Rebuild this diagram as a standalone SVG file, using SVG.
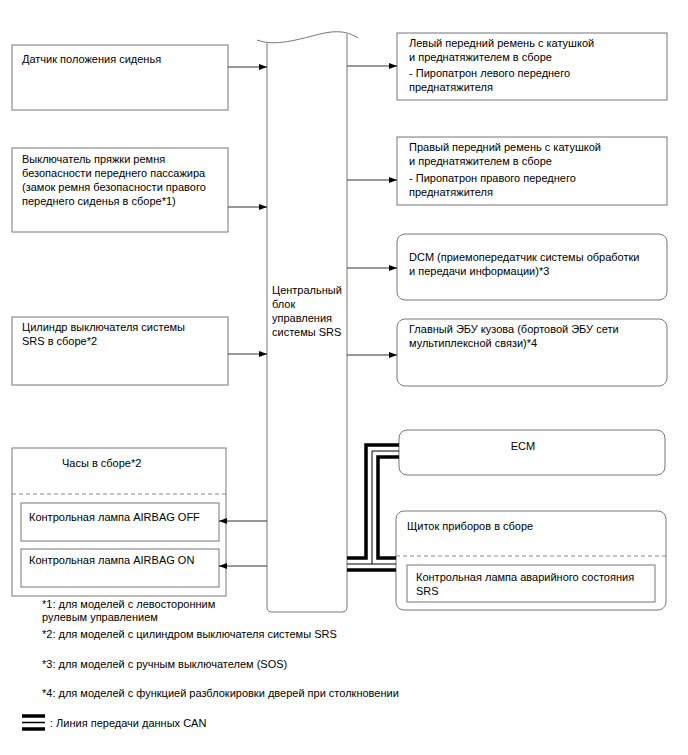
<svg xmlns="http://www.w3.org/2000/svg" width="688" height="755" viewBox="0 0 688 755">
<style>
.box{fill:#fff;stroke:#777;stroke-width:1}
.dash{stroke:#888;stroke-width:1;stroke-dasharray:4,3;fill:none}
.t{font-family:"Liberation Sans",Arial,sans-serif;font-size:11px;fill:#000}
.c{stroke:#333;stroke-width:1;fill:none}
.thick{stroke:#000;stroke-width:3.5;fill:none}
.thin{stroke:#000;stroke-width:1;fill:none}
</style>
<defs>
<marker id="ah" markerWidth="8" markerHeight="6" refX="8" refY="3" orient="auto" markerUnits="userSpaceOnUse">
<path d="M0,0 L8,3 L0,6 Z" fill="#000"/>
</marker>
</defs>
<rect width="688" height="755" fill="#fff"/>

<g id="ecu">
<path d="M267,43 L267,607 Q267,612 272,612 L342,612 Q347,612 347,607 L347,34" fill="#fff" stroke="#777"/>
<path d="M257,40 C275,47 300,39 320,34 S350,33 358,38" fill="none" stroke="#777"/>
<text class="t" x="272" y="294">Центральный</text>
<text class="t" x="272" y="308">блок</text>
<text class="t" x="272" y="322">управления</text>
<text class="t" x="272" y="336">системы SRS</text>
</g>

<g id="seat-sensor">
<rect class="box" x="12" y="45" width="216" height="65"/>
<text class="t" x="22" y="63">Датчик положения сиденья</text>
</g>

<g id="buckle-switch">
<rect class="box" x="12" y="148" width="216" height="84"/>
<text class="t" x="22" y="163">Выключатель пряжки ремня</text>
<text class="t" x="22" y="177">безопасности переднего пассажира</text>
<text class="t" x="22" y="191">(замок ремня безопасности правого</text>
<text class="t" x="22" y="205">переднего сиденья в сборе*1)</text>
</g>

<g id="switch-cylinder">
<rect class="box" x="12" y="317" width="216" height="68"/>
<text class="t" x="22" y="331">Цилиндр выключателя системы</text>
<text class="t" x="22" y="345">SRS в сборе*2</text>
</g>

<g id="clock">
<rect class="box" x="12" y="448" width="214" height="148"/>
<text class="t" x="62" y="467">Часы в сборе*2</text>
<line class="dash" x1="12" y1="494" x2="226" y2="494"/>
<rect class="box" x="21" y="503" width="198" height="38"/>
<text class="t" x="29" y="521">Контрольная лампа AIRBAG OFF</text>
<rect class="box" x="21" y="549" width="198" height="38"/>
<text class="t" x="29" y="564">Контрольная лампа AIRBAG ON</text>
</g>

<g id="left-pretensioner">
<rect class="box" x="397" y="33" width="270" height="67"/>
<text class="t" x="409" y="47">Левый передний ремень с катушкой</text>
<text class="t" x="409" y="61">и преднатяжителем в сборе</text>
<text class="t" x="409" y="77">- Пиропатрон левого переднего</text>
<text class="t" x="409" y="91">преднатяжителя</text>
</g>

<g id="right-pretensioner">
<rect class="box" x="397" y="137" width="270" height="68"/>
<text class="t" x="409" y="151">Правый передний ремень с катушкой</text>
<text class="t" x="409" y="165">и преднатяжителем в сборе</text>
<text class="t" x="409" y="182">- Пиропатрон правого переднего</text>
<text class="t" x="409" y="196">преднатяжителя</text>
</g>

<g id="dcm">
<rect class="box" x="397" y="234" width="270" height="66" rx="8"/>
<text class="t" x="409" y="261">DCM (приемопередатчик системы обработки</text>
<text class="t" x="409" y="275">и передачи информации)*3</text>
</g>

<g id="main-body-ecu">
<rect class="box" x="397" y="319" width="270" height="67" rx="8"/>
<text class="t" x="409" y="333">Главный ЭБУ кузова (бортовой ЭБУ сети</text>
<text class="t" x="409" y="347">мультиплексной связи)*4</text>
</g>

<g id="ecm">
<rect class="box" x="399" y="430" width="266" height="45" rx="8"/>
<text class="t" x="523" y="450" text-anchor="middle">ECM</text>
</g>

<g id="combination-meter">
<rect class="box" x="396" y="511" width="270" height="99" rx="8"/>
<text class="t" x="407" y="530">Щиток приборов в сборе</text>
<line class="dash" x1="396" y1="556" x2="666" y2="556"/>
<rect class="box" x="407" y="565" width="248" height="37"/>
<text class="t" x="416" y="581">Контрольная лампа аварийного состояния</text>
<text class="t" x="416" y="595">SRS</text>
</g>

<g id="connectors">
<line class="c" x1="228" y1="67" x2="267" y2="67" marker-end="url(#ah)"/>
<line class="c" x1="228" y1="207" x2="267" y2="207" marker-end="url(#ah)"/>
<line class="c" x1="228" y1="354" x2="267" y2="354" marker-end="url(#ah)"/>
<line class="c" x1="347" y1="66" x2="397" y2="66" marker-end="url(#ah)"/>
<line class="c" x1="347" y1="180" x2="397" y2="180" marker-end="url(#ah)"/>
<line class="c" x1="347" y1="268" x2="397" y2="268" marker-end="url(#ah)"/>
<line class="c" x1="347" y1="355" x2="397" y2="355" marker-end="url(#ah)"/>
<line class="c" x1="267" y1="521" x2="219" y2="521" marker-end="url(#ah)"/>
<line class="c" x1="267" y1="566" x2="219" y2="566" marker-end="url(#ah)"/>
<g id="can-bus">
<path class="thick" d="M347,558 L366,558 L366,445 L399,445"/>
<path class="thick" d="M399,457 L378,457 L378,558 L396,558"/>
<path class="thin" d="M347,564 L396,564"/>
<path class="thin" d="M372,564 L372,451 L399,451"/>
<path class="thick" d="M347,570 L396,570"/>
</g>
</g>

<g id="notes">
<text class="t" x="42" y="608">*1: для моделей с левосторонним</text>
<text class="t" x="42" y="621">рулевым управлением</text>
<text class="t" x="42" y="638">*2: для моделей с цилиндром выключателя системы SRS</text>
<text class="t" x="42" y="668">*3: для моделей с ручным выключателем (SOS)</text>
<text class="t" x="42" y="697">*4: для моделей с функцией разблокировки дверей при столкновении</text>
<line x1="22" y1="716" x2="45" y2="716" stroke="#000" stroke-width="3.5"/>
<line x1="22" y1="722.5" x2="45" y2="722.5" stroke="#000" stroke-width="1.5"/>
<line x1="22" y1="729" x2="45" y2="729" stroke="#000" stroke-width="3.5"/>
<text class="t" x="50" y="727">: Линия передачи данных CAN</text>
</g>
</svg>
